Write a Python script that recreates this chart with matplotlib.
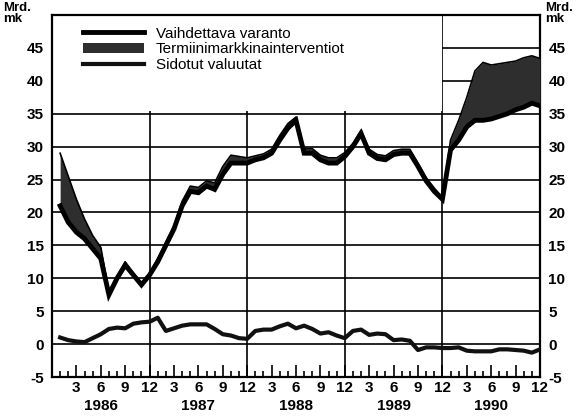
import numpy as np
import matplotlib
matplotlib.use("Agg")
import matplotlib.pyplot as plt
from matplotlib.patches import Rectangle, Patch
from matplotlib.lines import Line2D

plt.rcParams["font.family"] = ["Liberation Sans", "DejaVu Sans"]

# kuukaudet 1/1986 - 12/1990 (1..60)
kuukaudet = np.arange(1, 61)
vuodet = ["1986", "1987", "1988", "1989", "1990"]
kk_nimet = ["3", "6", "9", "12"]

# vaihdettava varanto, mrd. mk
varanto = [21, 18.5, 17, 16, 14.5, 13, 7.5, 10, 12, 10.5, 9, 10.5,
           12.5, 15, 17.5, 21, 23.2, 23, 24, 23.5, 25.8, 27.5, 27.5, 27.5,
           28, 28.3, 29, 31, 32.8, 34, 29, 29, 28, 27.5, 27.5, 28.5,
           30, 32, 29, 28.2, 28, 28.8, 29, 29, 27, 24.8, 23.2, 22,
           29.5, 31, 33, 34, 34, 34.2, 34.6, 35, 35.6, 36, 36.6, 36.2]

# termiinimarkkinainterventiot (vyohykkeen leveys)
termiini = [8, 7, 5, 3, 2, 1.7, 0.5, 0.3, 0.5, 0.3, 0.2, 0.3,
            0.5, 0.5, 0.5, 0.7, 0.8, 0.8, 0.8, 1.0, 1.2, 1.2, 1.0, 0.8,
            0.6, 0.6, 0.6, 0.7, 0.7, 0.5, 0.7, 0.7, 0.7, 0.8, 0.8, 0.6,
            0.5, 0.5, 0.6, 0.6, 0.6, 0.6, 0.6, 0.6, 0.5, 0.5, 0.5, 0.3,
            1.5, 3, 4.5, 7.5, 8.8, 8.2, 8.0, 7.8, 7.4, 7.5, 7.2, 7.2]

# sidotut valuutat
sidotut = [1.0, 0.6, 0.4, 0.3, 0.9, 1.5, 2.3, 2.5, 2.4, 3.1, 3.3, 3.4,
           4.0, 2.0, 2.4, 2.8, 3.0, 3.0, 3.0, 2.3, 1.5, 1.3, 0.9, 0.8,
           2.0, 2.2, 2.2, 2.7, 3.1, 2.4, 2.8, 2.3, 1.6, 1.8, 1.3, 0.9,
           2.0, 2.2, 1.4, 1.6, 1.5, 0.6, 0.7, 0.5, -0.9, -0.5, -0.5, -0.6,
           -0.6, -0.5, -1.0, -1.1, -1.1, -1.1, -0.8, -0.8, -0.9, -1.0, -1.3, -0.8]

varanto = np.array(varanto)
ylaraja = varanto + np.array(termiini)

fig = plt.figure(figsize=(5.87, 4.19), dpi=100)
ax = fig.add_axes([52 / 587, 1 - 377 / 419, 488 / 587, 362 / 419])

ax.set_xlim(0, 60)
ax.set_ylim(-5, 50)

# ruudukko
for y in range(0, 50, 5):
    ax.axhline(y, color="black", lw=1.2, zorder=1)
for x in range(12, 60, 12):
    ax.axvline(x, color="black", lw=1.2, zorder=1)

# selitteen alue peittaa ruudukon
ax.add_patch(Rectangle((0, 35.4), 48, 14.5, facecolor="white", edgecolor="none", zorder=2))

ax.fill_between(kuukaudet, varanto, ylaraja, color="#2e2e2e", lw=0, zorder=3)
ax.plot(kuukaudet, ylaraja, color="black", lw=1.2, zorder=4)
ax.plot(kuukaudet, varanto, color="black", lw=3.5, zorder=5, solid_joinstyle="miter")
ax.plot(kuukaudet, sidotut, color="#111111", lw=3, zorder=5)

for s in ax.spines.values():
    s.set_linewidth(1.6)

ax.set_xticks(np.arange(3, 61, 3))
ax.set_xticklabels(kk_nimet * 5, fontsize=11, fontweight="bold")
ax.set_xticks(kuukaudet, minor=True)
ax.tick_params(axis="x", which="major", direction="in", length=9, width=1.2, pad=3)
ax.tick_params(axis="x", which="minor", direction="in", length=4.5, width=1.2)

ax.set_yticks(range(-5, 50, 5))
ax.set_yticklabels([str(v) for v in range(-5, 50, 5)], fontsize=11, fontweight="bold")
ax.tick_params(axis="y", length=0, labelleft=True, labelright=True, pad=6)

for i, v in enumerate(vuodet):
    ax.text(6 + 12 * i, -0.062, v, transform=ax.get_xaxis_transform(),
            ha="center", va="top", fontsize=11, fontweight="bold")

fig.text(3 / 587, 1 - 2 / 419, "Mrd.\nmk", ha="left", va="top", fontsize=9.5,
         fontweight="bold", linespacing=0.9)
fig.text(545 / 587, 1 - 2 / 419, "Mrd.\nmk", ha="left", va="top", fontsize=9.5,
         fontweight="bold", linespacing=0.9)

kahvat = [Line2D([], [], color="black", lw=3.5),
          Patch(facecolor="#2e2e2e", edgecolor="none"),
          Line2D([], [], color="#111111", lw=3)]
nimet = ["Vaihdettava varanto", "Termiinimarkkinainterventiot", "Sidotut valuutat"]
leg = ax.legend(kahvat, nimet, loc="upper left", bbox_to_anchor=(0.05, 0.985),
                frameon=False, fontsize=11, handlelength=4, handleheight=0.6,
                labelspacing=0.12, handletextpad=0.8, borderaxespad=0)
leg.set_zorder(6)

fig.savefig("out.png", dpi=100)
